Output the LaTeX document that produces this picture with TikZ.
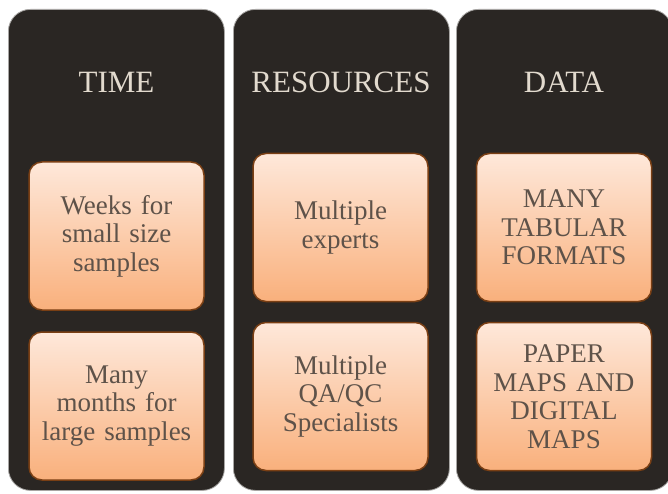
\documentclass[tikz,border=0pt]{standalone}
\usepackage{fontspec}
\setmainfont{Liberation Serif}
\usetikzlibrary{positioning}

\definecolor{colbg}{HTML}{2A2623}
\definecolor{colhalo}{HTML}{A8A6A4}
\definecolor{titletext}{HTML}{E2DACE}
\definecolor{cardtop}{HTML}{FEE8DA}
\definecolor{cardbot}{HTML}{F9B07C}
\definecolor{cardedge}{HTML}{7A3F14}
\definecolor{cardtext}{HTML}{5E5249}

\begin{document}
\begin{tikzpicture}[x=1pt, y=-1pt]
    % Stili
    \tikzstyle{column}=[rectangle, rounded corners=22pt, anchor=north west, minimum width=216pt, minimum height=481pt, fill=colbg, draw=colhalo, line width=0.8pt]
    \tikzstyle{title}=[text=titletext, font=\fontsize{31}{33}\selectfont]
    \tikzstyle{card}=[rectangle, rounded corners=13pt, minimum width=175pt, minimum height=148pt, text width=168pt, align=center, top color=cardtop, bottom color=cardbot, draw=cardedge, line width=1.5pt, text=cardtext, font=\fontsize{27}{28.5}\selectfont]

    \useasboundingbox (0,0) rectangle (668,494);
    \fill[white] (0,0) rectangle (668,494);

    % Colonne
    \node (timecol) [column] at (8,9) {};
    \node (rescol) [column] at (233,9) {};
    \node (datacol) [column] at (456,9) {};

    % Titoli
    \node (timetitle) [title] at (116.5,82) {TIME};
    \node (restitle) [title] at (341,82) {RESOURCES};
    \node (datatitle) [title] at (564,82) {DATA};

    % Riquadri
    \node (weeks) [card] at (116.5,236) {Weeks for\\small size\\samples};
    \node (months) [card] at (116.5,406) {Many\\months for\\large samples};
    \node (experts) [card] at (340.5,227.5) {Multiple\\experts};
    \node (qaqc) [card] at (340.5,396.5) {Multiple\\QA/QC\\Specialists};
    \node (tabular) [card] at (564,227.5) {MANY\\TABULAR\\FORMATS};
    \node (maps) [card] at (564,396.5) {PAPER\\MAPS AND\\DIGITAL\\MAPS};

\end{tikzpicture}
\end{document}
